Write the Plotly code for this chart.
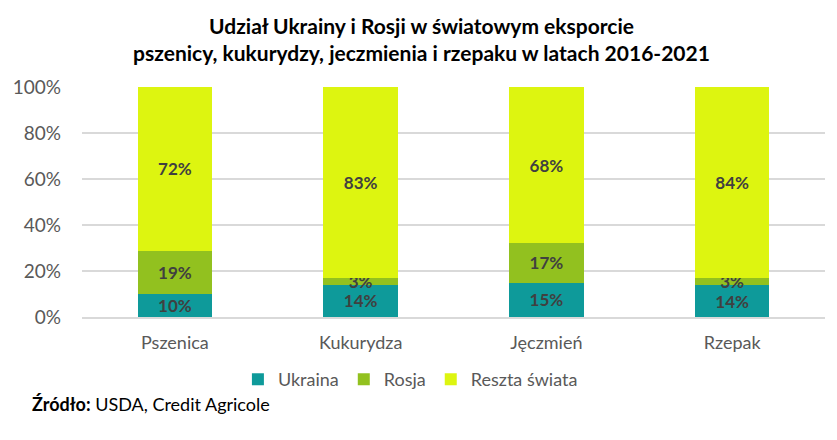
import plotly.graph_objects as go

categories = ['Pszenica', 'Kukurydza', 'Jęczmień', 'Rzepak']
ukraina = [10, 14, 15, 14]
rosja = [19, 3, 17, 3]
reszta = [72, 83, 68, 84]

series = [
    ('Ukraina', ukraina, '#0E9A9A'),
    ('Rosja', rosja, '#92C11F'),
    ('Reszta świata', reszta, '#DDF510'),
]

FONT = 'Lato, Open Sans, sans-serif'

fig = go.Figure()
for name, vals, color in series:
    fig.add_trace(go.Bar(
        x=categories, y=vals, name=name,
        marker=dict(color=color, line=dict(width=0)),
        text=[f'{v}%' for v in vals],
        textposition='inside', insidetextanchor='middle',
        textfont=dict(family=FONT, size=17, color='#404040', weight='bold'),
        hoverinfo='skip',
    ))

# page body adds an 8px offset, so margins are shifted by it
fig.update_layout(
    barmode='stack', barnorm='percent', bargap=0.6,
    width=837, height=440,
    margin=dict(l=74, r=20, t=79, b=131, autoexpand=False),
    paper_bgcolor='white', plot_bgcolor='white',
    font=dict(family=FONT, size=18, color='#595959'),
    uniformtext=dict(mode='show', minsize=17),
    title=dict(
        text='Udział Ukrainy i Rosji w światowym eksporcie<br>pszenicy, kukurydzy, jeczmienia i rzepaku w latach 2016-2021',
        x=0.494, xanchor='center', y=0.941, yanchor='top',
        font=dict(family=FONT, size=21, color='#000000', weight='bold'),
    ),
    legend=dict(
        orientation='h', x=0.442, xanchor='center', y=-0.272, yanchor='middle',
        font=dict(family=FONT, size=18, color='#595959'),
        traceorder='normal', itemwidth=30,
    ),
    showlegend=True,
)
fig.update_yaxes(
    range=[0, 100], dtick=20, ticksuffix='%',
    showgrid=True, gridcolor='#D9D9D9', gridwidth=2,
    zeroline=False, showline=False, ticks='', ticklabelstandoff=20,
    tickfont=dict(size=19),
)
fig.update_xaxes(showline=True, linecolor='#D9D9D9', linewidth=2, ticks='', ticklabelstandoff=8)

fig.add_annotation(
    text='<b>Źródło:</b> USDA, Credit Agricole',
    xref='paper', yref='paper', x=-0.07, y=-0.378,
    xanchor='left', yanchor='middle', showarrow=False,
    font=dict(family=FONT, size=18, color='#000000'),
)

fig.write_html('out.html')
